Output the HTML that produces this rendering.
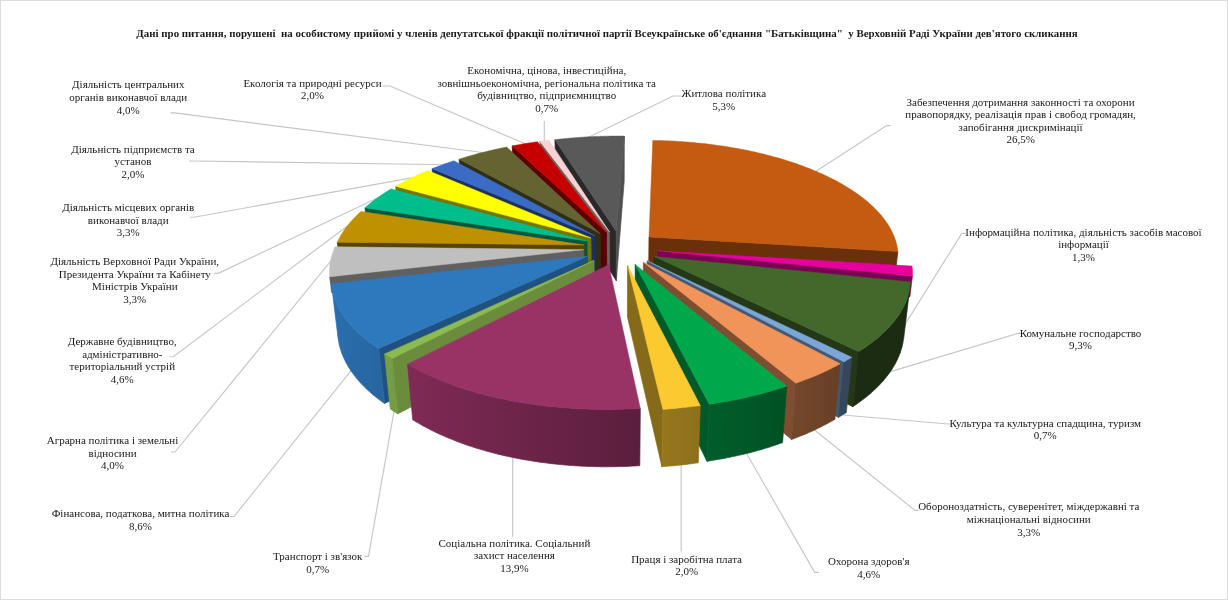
<!DOCTYPE html><html><head><meta charset="utf-8"><title>chart</title><style>html,body{margin:0;padding:0;background:#fff;overflow:hidden}svg{display:block}text{white-space:pre}</style></head><body><svg width="1228" height="600" viewBox="0 0 1228 600" xml:space="preserve" font-family="'Liberation Serif', serif" font-size="11" fill="#1a1a1a">
<rect x="0.5" y="0.5" width="1227" height="599" fill="#fff" stroke="#DDDDDD" stroke-width="1"/>
<g fill="none" stroke="#C6C6C8" stroke-width="1.15"><polyline points="170.6,112.9 174.6,112.9 488.3,153.3"/>
<polyline points="189.0,161.0 193.0,161.0 448.8,164.7"/>
<polyline points="190.0,217.2 194.0,217.2 417.0,176.9"/>
<polyline points="214.3,273.3 218.3,273.3 382.7,195.4"/>
<polyline points="169.3,356.7 173.3,356.7 351.8,222.7"/>
<polyline points="171.0,452.0 175.0,452.0 334.2,256.9"/>
<polyline points="230.0,516.5 234.0,516.5 354.7,366.2"/>
<polyline points="364.5,556.3 368.5,556.3 395.0,405.6"/>
<polyline points="512.7,536.8 512.7,451.5"/>
<polyline points="681.2,551.4 681.2,459.1"/>
<polyline points="818.7,572.3 814.7,572.3 743.6,448.3"/>
<polyline points="919.0,510.4 915.0,510.4 809.8,426.3"/>
<polyline points="952.0,424.0 948.0,424.0 836.5,414.5"/>
<polyline points="1022.4,333.3 1018.4,333.3 884.6,373.4"/>
<polyline points="965.8,233.4 961.8,233.4 903.0,327.6"/>
<polyline points="890.6,125.6 886.6,125.6 811.0,174.6"/>
<polyline points="681.0,96.0 677.0,96.0 673.0,96.0 584.0,139.4"/>
<polyline points="544.3,121.0 544.3,146.8"/>
<polyline points="382.0,86.0 386.0,86.0 390.0,86.0 530.3,146.0"/></g>
<g stroke-linejoin="round"><polygon points="616.2,231.2 554.9,139.7 556.1,184.6 616.3,280.8" fill="#292929" stroke="#292929" stroke-width="0.7"/>
<polygon points="616.2,231.2 624.3,136.1 624.2,180.8 616.3,280.8" fill="#505050" stroke="#505050" stroke-width="0.7"/>
<polygon points="616.2,231.2 554.9,139.7 556.7,139.5 558.4,139.3 560.2,139.1 561.9,138.9 563.7,138.7 565.4,138.6 567.2,138.4 569.0,138.2 570.7,138.1 572.5,137.9 574.3,137.8 576.0,137.7 577.8,137.5 579.6,137.4 581.4,137.3 583.2,137.2 584.9,137.0 586.7,136.9 588.5,136.8 590.3,136.8 592.1,136.7 593.9,136.6 595.6,136.5 597.4,136.4 599.2,136.4 601.0,136.3 602.8,136.3 604.6,136.2 606.4,136.2 608.2,136.2 610.0,136.1 611.8,136.1 613.6,136.1 615.3,136.1 617.1,136.1 618.9,136.1 620.7,136.1 622.5,136.1 624.3,136.1" fill="#595959" stroke="#595959" stroke-width="0.5"/>
<polygon points="609.4,231.8 540.0,141.4 541.5,186.3 609.7,281.5" fill="#726161" stroke="#726161" stroke-width="0.7"/>
<polygon points="609.4,231.8 540.0,141.4 541.5,141.2 543.0,141.0 544.5,140.8 546.0,140.6 547.5,140.4 549.0,140.2" fill="#F8D2D2" stroke="#F8D2D2" stroke-width="0.5"/>
<polygon points="606.5,232.3 512.2,145.9 514.2,191.1 606.8,282.0" fill="#5B0000" stroke="#5B0000" stroke-width="0.7"/>
<polygon points="606.5,232.3 512.2,145.9 513.9,145.6 515.6,145.3 517.2,145.0 518.9,144.7 520.6,144.4 522.2,144.1 523.9,143.8 525.6,143.5 527.3,143.3 529.0,143.0 530.7,142.7 532.4,142.5 534.1,142.2 535.8,142.0 537.5,141.8" fill="#C60000" stroke="#C60000" stroke-width="0.5"/>
<polygon points="600.4,233.8 459.1,159.2 462.1,205.1 600.9,283.6" fill="#2E2E17" stroke="#2E2E17" stroke-width="0.7"/>
<polygon points="600.4,233.8 459.1,159.2 460.7,158.7 462.2,158.2 463.8,157.7 465.4,157.2 467.0,156.7 468.6,156.3 470.2,155.8 471.8,155.4 473.4,154.9 475.0,154.4 476.6,154.0 478.2,153.6 479.9,153.1 481.5,152.7 483.2,152.3 484.8,151.9 486.5,151.5 488.1,151.1 489.8,150.7 491.5,150.3 493.1,149.9 494.8,149.5 496.5,149.2 498.2,148.8 499.9,148.4 501.6,148.1 503.3,147.7 505.0,147.4 506.7,147.1" fill="#646432" stroke="#646432" stroke-width="0.5"/>
<polygon points="595.0,235.8 432.1,168.7 435.6,215.2 595.5,285.7" fill="#1B315B" stroke="#1B315B" stroke-width="0.7"/>
<polygon points="595.0,235.8 432.1,168.7 433.5,168.2 434.9,167.6 436.3,167.1 437.7,166.5 439.2,166.0 440.6,165.4 442.1,164.9 443.5,164.3 445.0,163.8 446.5,163.3 447.9,162.8 449.4,162.3 450.9,161.8 452.4,161.3 453.9,160.8" fill="#3A6BC5" stroke="#3A6BC5" stroke-width="0.5"/>
<polygon points="649.0,236.9 897.9,251.5 892.0,302.1 648.5,286.8" fill="#693009" stroke="#693009" stroke-width="0.7"/>
<polygon points="649.0,236.9 652.8,140.4 654.6,140.5 656.4,140.5 658.3,140.5 660.1,140.6 662.0,140.6 663.8,140.7 665.7,140.8 667.5,140.8 669.3,140.9 671.2,141.0 673.0,141.1 674.9,141.2 676.7,141.3 678.5,141.4 680.4,141.5 682.2,141.7 684.0,141.8 685.9,141.9 687.7,142.1 689.5,142.2 691.3,142.4 693.2,142.5 695.0,142.7 696.8,142.9 698.6,143.1 700.4,143.2 702.2,143.4 704.0,143.6 705.9,143.8 707.7,144.1 709.5,144.3 711.3,144.5 713.1,144.7 714.9,145.0 716.6,145.2 718.4,145.5 720.2,145.7 722.0,146.0 723.8,146.2 725.6,146.5 727.3,146.8 729.1,147.1 730.9,147.4 732.6,147.7 734.4,148.0 736.1,148.3 737.9,148.6 739.6,148.9 741.4,149.3 743.1,149.6 744.8,149.9 746.6,150.3 748.3,150.6 750.0,151.0 751.7,151.4 753.4,151.7 755.1,152.1 756.8,152.5 758.5,152.9 760.2,153.3 761.9,153.7 763.6,154.1 765.3,154.5 766.9,155.0 768.6,155.4 770.2,155.8 771.9,156.3 773.5,156.7 775.2,157.2 776.8,157.6 778.4,158.1 780.1,158.5 781.7,159.0 783.3,159.5 784.9,160.0 786.5,160.5 788.1,161.0 789.6,161.5 791.2,162.0 792.8,162.5 794.3,163.1 795.9,163.6 797.4,164.1 799.0,164.7 800.5,165.2 802.0,165.8 803.5,166.3 805.0,166.9 806.5,167.5 808.0,168.0 809.5,168.6 811.0,169.2 812.4,169.8 813.9,170.4 815.3,171.0 816.8,171.6 818.2,172.2 819.6,172.9 821.0,173.5 822.5,174.1 823.8,174.8 825.2,175.4 826.6,176.0 828.0,176.7 829.3,177.4 830.7,178.0 832.0,178.7 833.3,179.4 834.7,180.1 836.0,180.8 837.3,181.4 838.5,182.1 839.8,182.9 841.1,183.6 842.3,184.3 843.6,185.0 844.8,185.7 846.0,186.5 847.2,187.2 848.4,187.9 849.6,188.7 850.8,189.4 852.0,190.2 853.1,190.9 854.3,191.7 855.4,192.5 856.5,193.3 857.6,194.0 858.7,194.8 859.8,195.6 860.9,196.4 861.9,197.2 863.0,198.0 864.0,198.8 865.0,199.7 866.0,200.5 867.0,201.3 868.0,202.1 868.9,203.0 869.9,203.8 870.8,204.6 871.7,205.5 872.7,206.3 873.6,207.2 874.4,208.1 875.3,208.9 876.2,209.8 877.0,210.7 877.8,211.5 878.6,212.4 879.4,213.3 880.2,214.2 881.0,215.1 881.7,216.0 882.4,216.9 883.2,217.8 883.9,218.7 884.6,219.6 885.2,220.5 885.9,221.5 886.5,222.4 887.2,223.3 887.8,224.2 888.4,225.2 888.9,226.1 889.5,227.1 890.0,228.0 890.6,229.0 891.1,229.9 891.6,230.9 892.0,231.8 892.5,232.8 892.9,233.7 893.4,234.7 893.8,235.7 894.2,236.6 894.5,237.6 894.9,238.6 895.2,239.6 895.6,240.6 895.9,241.5 896.1,242.5 896.4,243.5 896.7,244.5 896.9,245.5 897.1,246.5 897.3,247.5 897.5,248.5 897.6,249.5 897.8,250.5 897.9,251.5" fill="#C55A11" stroke="#C55A11" stroke-width="0.5"/>
<polygon points="590.9,238.0 395.7,186.3 400.0,233.6 591.6,287.9" fill="#757500" stroke="#757500" stroke-width="0.7"/>
<polygon points="590.9,238.0 395.7,186.3 396.9,185.5 398.1,184.8 399.4,184.1 400.7,183.4 401.9,182.7 403.2,182.0 404.5,181.3 405.8,180.6 407.1,180.0 408.5,179.3 409.8,178.6 411.1,178.0 412.5,177.3 413.8,176.7 415.2,176.0 416.6,175.4 418.0,174.8 419.4,174.1 420.8,173.5 422.2,172.9 423.6,172.3 425.1,171.7 426.5,171.1 427.9,170.5" fill="#FFFF00" stroke="#FFFF00" stroke-width="0.5"/>
<polygon points="587.0,241.0 365.0,207.7 370.0,256.2 587.7,291.1" fill="#005740" stroke="#005740" stroke-width="0.7"/>
<polygon points="587.0,241.0 365.0,207.7 365.9,206.9 366.9,206.1 367.9,205.2 368.8,204.4 369.8,203.6 370.9,202.8 371.9,202.0 372.9,201.1 374.0,200.3 375.1,199.5 376.1,198.7 377.2,198.0 378.3,197.2 379.5,196.4 380.6,195.6 381.7,194.8 382.9,194.1 384.0,193.3 385.2,192.6 386.4,191.8 387.6,191.1 388.8,190.3 390.0,189.6 391.2,188.9" fill="#00BE8C" stroke="#00BE8C" stroke-width="0.5"/>
<polygon points="584.1,245.0 337.3,242.2 343.2,292.4 584.9,295.3" fill="#594300" stroke="#594300" stroke-width="0.7"/>
<polygon points="584.1,245.0 337.3,242.2 337.7,241.3 338.2,240.3 338.7,239.3 339.2,238.4 339.7,237.4 340.2,236.5 340.7,235.6 341.3,234.6 341.9,233.7 342.5,232.7 343.1,231.8 343.7,230.9 344.3,230.0 345.0,229.0 345.6,228.1 346.3,227.2 347.0,226.3 347.7,225.4 348.5,224.5 349.2,223.6 349.9,222.7 350.7,221.8 351.5,220.9 352.3,220.0 353.1,219.2 353.9,218.3 354.8,217.4 355.6,216.5 356.5,215.7 357.4,214.8 358.3,214.0 359.2,213.1 360.1,212.3 361.0,211.4" fill="#BF9000" stroke="#BF9000" stroke-width="0.5"/>
<polygon points="583.6,249.7 329.7,276.7 331.6,292.5 583.8,265.1" fill="#606060" stroke="#606060" stroke-width="0.7"/>
<polygon points="583.6,249.7 329.7,276.7 329.6,275.6 329.6,274.6 329.5,273.5 329.5,272.5 329.5,271.4 329.5,270.4 329.6,269.3 329.6,268.3 329.7,267.3 329.8,266.2 329.9,265.2 330.0,264.1 330.2,263.1 330.3,262.1 330.5,261.0 330.7,260.0 331.0,259.0 331.2,258.0 331.5,256.9 331.8,255.9 332.1,254.9 332.4,253.9 332.7,252.9 333.1,251.9 333.4,250.9 333.8,249.8 334.2,248.8 334.7,247.8 335.1,246.8" fill="#BFBFBF" stroke="#BFBFBF" stroke-width="0.5"/>
<polygon points="658.0,250.9 912.4,276.0 909.8,296.9 657.7,271.4" fill="#7A0054" stroke="#7A0054" stroke-width="0.7"/>
<polygon points="658.0,250.9 912.0,266.1 912.2,267.1 912.3,268.0 912.3,269.0 912.4,270.0 912.4,271.0 912.5,272.0 912.5,273.0 912.5,274.0 912.4,275.0 912.4,276.0" fill="#E6009E" stroke="#E6009E" stroke-width="0.5"/>
<polygon points="587.6,256.3 378.7,348.6 384.5,403.5 588.3,307.1" fill="#1F5281" stroke="#1F5281" stroke-width="0.7"/>
<linearGradient id="g9" gradientUnits="userSpaceOnUse" x1="378.7" y1="0" x2="331.7" y2="0"><stop offset="-0.000" stop-color="#2766A1"/><stop offset="0.230" stop-color="#2868A3"/><stop offset="0.407" stop-color="#2869A6"/><stop offset="0.561" stop-color="#296BA8"/><stop offset="0.709" stop-color="#296CAA"/><stop offset="0.827" stop-color="#296DAB"/><stop offset="0.906" stop-color="#2A6EAD"/><stop offset="0.963" stop-color="#2A6FAE"/><stop offset="1.000" stop-color="#2A6FAF"/></linearGradient>
<polygon points="378.7,348.6 377.3,347.6 375.9,346.7 374.5,345.7 373.1,344.8 371.8,343.8 370.5,342.8 369.2,341.9 367.9,340.9 366.6,339.9 365.4,338.9 364.2,337.9 363.0,336.9 361.8,335.9 360.7,334.9 359.6,333.9 358.5,332.9 357.4,331.9 356.3,330.8 355.3,329.8 354.3,328.8 353.3,327.7 352.3,326.7 351.4,325.7 350.4,324.6 349.5,323.6 348.7,322.5 347.8,321.5 347.0,320.4 346.2,319.4 345.4,318.3 344.6,317.2 343.8,316.2 343.1,315.1 342.4,314.0 341.7,313.0 341.1,311.9 340.4,310.8 339.8,309.8 339.2,308.7 338.7,307.6 338.1,306.5 337.6,305.5 337.1,304.4 336.6,303.3 336.1,302.2 335.7,301.1 335.3,300.0 334.9,299.0 334.5,297.9 334.1,296.8 333.8,295.7 333.5,294.6 333.2,293.5 332.9,292.5 332.7,291.4 332.4,290.3 332.2,289.2 332.0,288.1 331.9,287.0 331.7,286.0 338.1,338.2 338.2,339.3 338.4,340.4 338.6,341.6 338.8,342.7 339.1,343.8 339.3,345.0 339.6,346.1 339.9,347.2 340.2,348.3 340.5,349.5 340.9,350.6 341.3,351.7 341.7,352.9 342.1,354.0 342.5,355.1 343.0,356.3 343.5,357.4 344.0,358.5 344.5,359.6 345.1,360.8 345.6,361.9 346.2,363.0 346.8,364.1 347.5,365.3 348.1,366.4 348.8,367.5 349.5,368.6 350.2,369.7 350.9,370.8 351.7,371.9 352.5,373.0 353.3,374.1 354.1,375.2 355.0,376.3 355.8,377.4 356.7,378.5 357.6,379.6 358.6,380.7 359.5,381.8 360.5,382.9 361.5,383.9 362.5,385.0 363.5,386.1 364.6,387.1 365.7,388.2 366.8,389.3 367.9,390.3 369.1,391.3 370.2,392.4 371.4,393.4 372.6,394.5 373.9,395.5 375.1,396.5 376.4,397.5 377.7,398.5 379.0,399.5 380.3,400.5 381.7,401.5 383.1,402.5 384.5,403.5" fill="url(#g9)" stroke="url(#g9)" stroke-width="0.7"/>
<polygon points="587.6,256.3 378.7,348.6 377.3,347.6 375.9,346.7 374.5,345.7 373.1,344.8 371.8,343.8 370.5,342.8 369.2,341.9 367.9,340.9 366.6,339.9 365.4,338.9 364.2,337.9 363.0,336.9 361.8,335.9 360.7,334.9 359.6,333.9 358.5,332.9 357.4,331.9 356.3,330.8 355.3,329.8 354.3,328.8 353.3,327.7 352.3,326.7 351.4,325.7 350.4,324.6 349.5,323.6 348.7,322.5 347.8,321.5 347.0,320.4 346.2,319.4 345.4,318.3 344.6,317.2 343.8,316.2 343.1,315.1 342.4,314.0 341.7,313.0 341.1,311.9 340.4,310.8 339.8,309.8 339.2,308.7 338.7,307.6 338.1,306.5 337.6,305.5 337.1,304.4 336.6,303.3 336.1,302.2 335.7,301.1 335.3,300.0 334.9,299.0 334.5,297.9 334.1,296.8 333.8,295.7 333.5,294.6 333.2,293.5 332.9,292.5 332.7,291.4 332.4,290.3 332.2,289.2 332.0,288.1 331.9,287.0 331.7,286.0 331.6,284.9 331.5,283.8" fill="#2E79BE" stroke="#2E79BE" stroke-width="0.5"/>
<polygon points="654.1,256.4 858.4,351.6 852.8,406.7 653.4,307.2" fill="#243717" stroke="#243717" stroke-width="0.7"/>
<linearGradient id="g2" gradientUnits="userSpaceOnUse" x1="910.0" y1="0" x2="858.4" y2="0"><stop offset="-0.000" stop-color="#1C2C12"/><stop offset="0.035" stop-color="#1C2C12"/><stop offset="0.095" stop-color="#1C2C12"/><stop offset="0.183" stop-color="#1C2C12"/><stop offset="0.298" stop-color="#1C2C12"/><stop offset="0.421" stop-color="#1C2C12"/><stop offset="0.587" stop-color="#1C2C12"/><stop offset="0.780" stop-color="#1C2C12"/><stop offset="1.000" stop-color="#1C2C12"/></linearGradient>
<polygon points="910.0,286.2 909.9,287.3 909.7,288.3 909.5,289.4 909.3,290.5 909.1,291.6 908.8,292.7 908.6,293.8 908.3,294.9 907.9,295.9 907.6,297.0 907.2,298.1 906.9,299.2 906.5,300.3 906.0,301.4 905.6,302.4 905.1,303.5 904.6,304.6 904.1,305.7 903.6,306.8 903.0,307.8 902.5,308.9 901.9,310.0 901.2,311.1 900.6,312.1 899.9,313.2 899.3,314.3 898.5,315.4 897.8,316.4 897.1,317.5 896.3,318.5 895.5,319.6 894.7,320.7 893.8,321.7 893.0,322.8 892.1,323.8 891.2,324.9 890.3,325.9 889.3,326.9 888.3,328.0 887.3,329.0 886.3,330.1 885.3,331.1 884.2,332.1 883.1,333.1 882.0,334.1 880.9,335.2 879.8,336.2 878.6,337.2 877.4,338.2 876.2,339.2 875.0,340.1 873.7,341.1 872.4,342.1 871.1,343.1 869.8,344.1 868.4,345.0 867.1,346.0 865.7,346.9 864.3,347.9 862.9,348.8 861.4,349.8 859.9,350.7 858.4,351.6 852.8,406.7 854.2,405.7 855.7,404.8 857.1,403.8 858.5,402.8 859.9,401.8 861.2,400.8 862.6,399.8 863.9,398.8 865.2,397.8 866.5,396.8 867.7,395.8 869.0,394.7 870.2,393.7 871.4,392.7 872.5,391.6 873.7,390.6 874.8,389.5 875.9,388.5 877.0,387.4 878.1,386.3 879.1,385.3 880.1,384.2 881.1,383.1 882.1,382.0 883.1,381.0 884.0,379.9 884.9,378.8 885.8,377.7 886.7,376.6 887.5,375.5 888.4,374.4 889.2,373.3 890.0,372.2 890.7,371.1 891.5,370.0 892.2,368.9 892.9,367.7 893.6,366.6 894.2,365.5 894.9,364.4 895.5,363.3 896.1,362.1 896.6,361.0 897.2,359.9 897.7,358.8 898.2,357.6 898.7,356.5 899.2,355.4 899.6,354.2 900.1,353.1 900.5,352.0 900.8,350.9 901.2,349.7 901.5,348.6 901.9,347.5 902.2,346.3 902.4,345.2 902.7,344.0 902.9,342.9 903.1,341.8 903.3,340.7 903.5,339.5 903.7,338.4" fill="url(#g2)" stroke="url(#g2)" stroke-width="0.7"/>
<polygon points="654.1,256.4 910.4,281.9 910.4,282.9 910.3,284.0 910.2,285.1 910.0,286.2 909.9,287.3 909.7,288.3 909.5,289.4 909.3,290.5 909.1,291.6 908.8,292.7 908.6,293.8 908.3,294.9 907.9,295.9 907.6,297.0 907.2,298.1 906.9,299.2 906.5,300.3 906.0,301.4 905.6,302.4 905.1,303.5 904.6,304.6 904.1,305.7 903.6,306.8 903.0,307.8 902.5,308.9 901.9,310.0 901.2,311.1 900.6,312.1 899.9,313.2 899.3,314.3 898.5,315.4 897.8,316.4 897.1,317.5 896.3,318.5 895.5,319.6 894.7,320.7 893.8,321.7 893.0,322.8 892.1,323.8 891.2,324.9 890.3,325.9 889.3,326.9 888.3,328.0 887.3,329.0 886.3,330.1 885.3,331.1 884.2,332.1 883.1,333.1 882.0,334.1 880.9,335.2 879.8,336.2 878.6,337.2 877.4,338.2 876.2,339.2 875.0,340.1 873.7,341.1 872.4,342.1 871.1,343.1 869.8,344.1 868.4,345.0 867.1,346.0 865.7,346.9 864.3,347.9 862.9,348.8 861.4,349.8 859.9,350.7 858.4,351.6" fill="#43682B" stroke="#43682B" stroke-width="0.5"/>
<polygon points="594.0,260.5 392.2,358.6 397.7,413.9 594.6,311.5" fill="#6A8C3C" stroke="#6A8C3C" stroke-width="0.7"/>
<linearGradient id="g8" gradientUnits="userSpaceOnUse" x1="392.2" y1="0" x2="384.6" y2="0"><stop offset="-0.000" stop-color="#769C43"/><stop offset="0.172" stop-color="#769D43"/><stop offset="0.341" stop-color="#769D43"/><stop offset="0.509" stop-color="#779D43"/><stop offset="0.675" stop-color="#779E43"/><stop offset="0.838" stop-color="#779E44"/><stop offset="1.000" stop-color="#779E44"/></linearGradient>
<polygon points="392.2,358.6 390.9,357.8 389.6,357.0 388.3,356.3 387.1,355.5 385.8,354.7 384.6,353.9 390.3,409.0 391.5,409.9 392.7,410.7 393.9,411.5 395.2,412.3 396.4,413.1 397.7,413.9" fill="url(#g8)" stroke="url(#g8)" stroke-width="0.7"/>
<polygon points="594.0,260.5 392.2,358.6 390.9,357.8 389.6,357.0 388.3,356.3 387.1,355.5 385.8,354.7 384.6,353.9" fill="#8DBB50" stroke="#8DBB50" stroke-width="0.5"/>
<polygon points="647.1,260.8 843.9,361.9 838.5,417.4 646.5,311.8" fill="#425872" stroke="#425872" stroke-width="0.7"/>
<linearGradient id="g3" gradientUnits="userSpaceOnUse" x1="851.8" y1="0" x2="843.9" y2="0"><stop offset="-0.000" stop-color="#34465B"/><stop offset="0.162" stop-color="#34465B"/><stop offset="0.326" stop-color="#34465B"/><stop offset="0.492" stop-color="#35465C"/><stop offset="0.659" stop-color="#35475C"/><stop offset="0.829" stop-color="#35475C"/><stop offset="1.000" stop-color="#35475D"/></linearGradient>
<polygon points="851.8,357.3 850.5,358.1 849.2,358.9 847.9,359.6 846.6,360.4 845.2,361.2 843.9,361.9 838.5,417.4 839.8,416.6 841.1,415.8 842.4,415.0 843.7,414.2 845.0,413.4 846.3,412.6" fill="url(#g3)" stroke="url(#g3)" stroke-width="0.7"/>
<polygon points="647.1,260.8 851.8,357.3 850.5,358.1 849.2,358.9 847.9,359.6 846.6,360.4 845.2,361.2 843.9,361.9" fill="#7CA6D8" stroke="#7CA6D8" stroke-width="0.5"/>
<polygon points="643.4,262.3 795.8,383.2 791.5,439.5 642.9,313.3" fill="#7F4E30" stroke="#7F4E30" stroke-width="0.7"/>
<linearGradient id="g4" gradientUnits="userSpaceOnUse" x1="840.2" y1="0" x2="795.8" y2="0"><stop offset="-0.000" stop-color="#674027"/><stop offset="0.111" stop-color="#684027"/><stop offset="0.227" stop-color="#6A4128"/><stop offset="0.346" stop-color="#6B4228"/><stop offset="0.470" stop-color="#6D4329"/><stop offset="0.597" stop-color="#6E4429"/><stop offset="0.728" stop-color="#70452A"/><stop offset="0.862" stop-color="#71462B"/><stop offset="1.000" stop-color="#73472B"/></linearGradient>
<polygon points="840.2,363.8 838.5,364.7 836.9,365.6 835.2,366.5 833.5,367.3 831.8,368.2 830.1,369.1 828.4,369.9 826.6,370.8 824.8,371.6 823.0,372.4 821.2,373.3 819.3,374.1 817.5,374.9 815.6,375.7 813.7,376.5 811.8,377.3 809.8,378.0 807.9,378.8 805.9,379.5 803.9,380.3 801.9,381.0 799.9,381.8 797.9,382.5 795.8,383.2 791.5,439.5 793.5,438.8 795.5,438.0 797.4,437.3 799.4,436.5 801.3,435.7 803.3,435.0 805.2,434.2 807.1,433.4 808.9,432.5 810.8,431.7 812.6,430.9 814.5,430.1 816.3,429.2 818.0,428.3 819.8,427.5 821.6,426.6 823.3,425.7 825.0,424.8 826.7,423.9 828.4,423.0 830.0,422.1 831.6,421.2 833.3,420.3 834.9,419.4" fill="url(#g4)" stroke="url(#g4)" stroke-width="0.7"/>
<polygon points="643.4,262.3 840.2,363.8 838.5,364.7 836.9,365.6 835.2,366.5 833.5,367.3 831.8,368.2 830.1,369.1 828.4,369.9 826.6,370.8 824.8,371.6 823.0,372.4 821.2,373.3 819.3,374.1 817.5,374.9 815.6,375.7 813.7,376.5 811.8,377.3 809.8,378.0 807.9,378.8 805.9,379.5 803.9,380.3 801.9,381.0 799.9,381.8 797.9,382.5 795.8,383.2" fill="#F0945A" stroke="#F0945A" stroke-width="0.5"/>
<polygon points="635.2,264.4 709.2,404.1 707.0,461.3 634.9,315.6" fill="#005928" stroke="#005928" stroke-width="0.7"/>
<linearGradient id="g5" gradientUnits="userSpaceOnUse" x1="786.7" y1="0" x2="709.2" y2="0"><stop offset="-0.000" stop-color="#005124"/><stop offset="0.107" stop-color="#005225"/><stop offset="0.218" stop-color="#005426"/><stop offset="0.360" stop-color="#005527"/><stop offset="0.477" stop-color="#005727"/><stop offset="0.596" stop-color="#005928"/><stop offset="0.749" stop-color="#005B29"/><stop offset="0.873" stop-color="#005C2A"/><stop offset="1.000" stop-color="#005E2B"/></linearGradient>
<polygon points="786.7,386.1 784.7,386.8 782.6,387.5 780.5,388.2 778.4,388.9 776.3,389.5 774.2,390.2 772.0,390.8 769.9,391.4 767.7,392.1 765.5,392.7 763.3,393.3 761.1,393.9 758.9,394.4 756.6,395.0 754.4,395.6 752.1,396.1 749.8,396.6 747.5,397.2 745.2,397.7 742.9,398.2 740.5,398.7 738.2,399.2 735.8,399.6 733.5,400.1 731.1,400.6 728.7,401.0 726.3,401.4 723.9,401.8 721.5,402.2 719.0,402.6 716.6,403.0 714.2,403.4 711.7,403.8 709.2,404.1 707.0,461.3 709.4,460.9 711.8,460.5 714.2,460.1 716.5,459.7 718.9,459.3 721.3,458.9 723.6,458.5 726.0,458.0 728.3,457.6 730.6,457.1 732.9,456.6 735.2,456.1 737.5,455.6 739.8,455.1 742.1,454.6 744.3,454.1 746.5,453.5 748.8,453.0 751.0,452.4 753.2,451.8 755.4,451.2 757.6,450.6 759.7,450.0 761.9,449.4 764.0,448.7 766.1,448.1 768.3,447.5 770.4,446.8 772.4,446.1 774.5,445.4 776.6,444.7 778.6,444.0 780.6,443.3 782.6,442.6" fill="url(#g5)" stroke="url(#g5)" stroke-width="0.7"/>
<polygon points="635.2,264.4 786.7,386.1 784.7,386.8 782.6,387.5 780.5,388.2 778.4,388.9 776.3,389.5 774.2,390.2 772.0,390.8 769.9,391.4 767.7,392.1 765.5,392.7 763.3,393.3 761.1,393.9 758.9,394.4 756.6,395.0 754.4,395.6 752.1,396.1 749.8,396.6 747.5,397.2 745.2,397.7 742.9,398.2 740.5,398.7 738.2,399.2 735.8,399.6 733.5,400.1 731.1,400.6 728.7,401.0 726.3,401.4 723.9,401.8 721.5,402.2 719.0,402.6 716.6,403.0 714.2,403.4 711.7,403.8 709.2,404.1" fill="#00A84C" stroke="#00A84C" stroke-width="0.5"/>
<linearGradient id="g7" gradientUnits="userSpaceOnUse" x1="640.3" y1="0" x2="407.5" y2="0"><stop offset="-0.000" stop-color="#5B1E3D"/><stop offset="0.137" stop-color="#602040"/><stop offset="0.285" stop-color="#652244"/><stop offset="0.430" stop-color="#6A2347"/><stop offset="0.559" stop-color="#6F254A"/><stop offset="0.681" stop-color="#73264D"/><stop offset="0.803" stop-color="#782850"/><stop offset="0.912" stop-color="#7C2953"/><stop offset="1.000" stop-color="#802B55"/></linearGradient>
<polygon points="640.3,408.4 637.7,408.5 635.0,408.7 632.4,408.8 629.7,408.9 627.1,409.0 624.4,409.1 621.8,409.2 619.1,409.3 616.4,409.3 613.8,409.4 611.1,409.4 608.5,409.4 605.8,409.4 603.1,409.4 600.5,409.4 597.8,409.4 595.1,409.3 592.5,409.3 589.8,409.2 587.2,409.1 584.5,409.0 581.9,408.9 579.2,408.8 576.6,408.6 573.9,408.5 571.3,408.3 568.7,408.1 566.1,407.9 563.4,407.7 560.8,407.5 558.2,407.3 555.6,407.0 553.0,406.8 550.4,406.5 547.8,406.2 545.3,405.9 542.7,405.6 540.1,405.3 537.6,405.0 535.0,404.6 532.5,404.3 530.0,403.9 527.5,403.5 525.0,403.1 522.5,402.7 520.0,402.3 517.5,401.9 515.0,401.4 512.6,401.0 510.1,400.5 507.7,400.0 505.3,399.5 502.9,399.0 500.5,398.5 498.1,398.0 495.7,397.5 493.4,396.9 491.0,396.4 488.7,395.8 486.4,395.2 484.1,394.6 481.8,394.0 479.5,393.4 477.3,392.8 475.0,392.1 472.8,391.5 470.6,390.8 468.4,390.2 466.2,389.5 464.0,388.8 461.9,388.1 459.7,387.4 457.6,386.7 455.5,386.0 453.4,385.3 451.4,384.5 449.3,383.8 447.3,383.0 445.3,382.2 443.3,381.4 441.3,380.7 439.4,379.9 437.4,379.1 435.5,378.2 433.6,377.4 431.7,376.6 429.9,375.8 428.0,374.9 426.2,374.1 424.4,373.2 422.6,372.3 420.9,371.4 419.1,370.6 417.4,369.7 415.7,368.8 414.0,367.9 412.3,366.9 410.7,366.0 409.1,365.1 407.5,364.2 412.7,419.7 414.2,420.7 415.8,421.7 417.4,422.6 419.1,423.6 420.7,424.5 422.4,425.5 424.1,426.4 425.8,427.3 427.5,428.2 429.2,429.1 431.0,430.0 432.8,430.9 434.6,431.8 436.4,432.7 438.2,433.5 440.1,434.4 442.0,435.2 443.9,436.1 445.8,436.9 447.7,437.7 449.7,438.5 451.6,439.3 453.6,440.1 455.6,440.9 457.6,441.7 459.6,442.4 461.7,443.2 463.8,443.9 465.8,444.7 467.9,445.4 470.1,446.1 472.2,446.8 474.3,447.5 476.5,448.2 478.7,448.8 480.9,449.5 483.1,450.1 485.3,450.8 487.5,451.4 489.8,452.0 492.0,452.6 494.3,453.2 496.6,453.8 498.9,454.4 501.2,454.9 503.5,455.5 505.9,456.0 508.2,456.5 510.6,457.0 512.9,457.5 515.3,458.0 517.7,458.5 520.1,458.9 522.5,459.4 525.0,459.8 527.4,460.2 529.8,460.6 532.3,461.0 534.8,461.4 537.2,461.8 539.7,462.2 542.2,462.5 544.7,462.8 547.2,463.1 549.7,463.5 552.2,463.7 554.7,464.0 557.3,464.3 559.8,464.5 562.4,464.8 564.9,465.0 567.5,465.2 570.0,465.4 572.6,465.6 575.1,465.8 577.7,465.9 580.3,466.1 582.9,466.2 585.5,466.3 588.0,466.4 590.6,466.5 593.2,466.6 595.8,466.7 598.4,466.7 601.0,466.8 603.6,466.8 606.2,466.8 608.8,466.8 611.4,466.8 614.0,466.7 616.6,466.7 619.1,466.6 621.7,466.6 624.3,466.5 626.9,466.4 629.5,466.3 632.1,466.1 634.7,466.0 637.2,465.8 639.8,465.7" fill="url(#g7)" stroke="url(#g7)" stroke-width="0.7"/>
<polygon points="608.7,264.8 640.3,408.4 637.7,408.5 635.0,408.7 632.4,408.8 629.7,408.9 627.1,409.0 624.4,409.1 621.8,409.2 619.1,409.3 616.4,409.3 613.8,409.4 611.1,409.4 608.5,409.4 605.8,409.4 603.1,409.4 600.5,409.4 597.8,409.4 595.1,409.3 592.5,409.3 589.8,409.2 587.2,409.1 584.5,409.0 581.9,408.9 579.2,408.8 576.6,408.6 573.9,408.5 571.3,408.3 568.7,408.1 566.1,407.9 563.4,407.7 560.8,407.5 558.2,407.3 555.6,407.0 553.0,406.8 550.4,406.5 547.8,406.2 545.3,405.9 542.7,405.6 540.1,405.3 537.6,405.0 535.0,404.6 532.5,404.3 530.0,403.9 527.5,403.5 525.0,403.1 522.5,402.7 520.0,402.3 517.5,401.9 515.0,401.4 512.6,401.0 510.1,400.5 507.7,400.0 505.3,399.5 502.9,399.0 500.5,398.5 498.1,398.0 495.7,397.5 493.4,396.9 491.0,396.4 488.7,395.8 486.4,395.2 484.1,394.6 481.8,394.0 479.5,393.4 477.3,392.8 475.0,392.1 472.8,391.5 470.6,390.8 468.4,390.2 466.2,389.5 464.0,388.8 461.9,388.1 459.7,387.4 457.6,386.7 455.5,386.0 453.4,385.3 451.4,384.5 449.3,383.8 447.3,383.0 445.3,382.2 443.3,381.4 441.3,380.7 439.4,379.9 437.4,379.1 435.5,378.2 433.6,377.4 431.7,376.6 429.9,375.8 428.0,374.9 426.2,374.1 424.4,373.2 422.6,372.3 420.9,371.4 419.1,370.6 417.4,369.7 415.7,368.8 414.0,367.9 412.3,366.9 410.7,366.0 409.1,365.1 407.5,364.2" fill="#993366" stroke="#993366" stroke-width="0.5"/>
<polygon points="627.6,265.5 662.9,409.3 661.9,466.7 627.4,316.7" fill="#856B19" stroke="#856B19" stroke-width="0.7"/>
<linearGradient id="g6" gradientUnits="userSpaceOnUse" x1="700.3" y1="0" x2="662.9" y2="0"><stop offset="-0.000" stop-color="#8C701B"/><stop offset="0.131" stop-color="#8E711B"/><stop offset="0.263" stop-color="#8F721B"/><stop offset="0.396" stop-color="#90731C"/><stop offset="0.529" stop-color="#91741C"/><stop offset="0.596" stop-color="#92751C"/><stop offset="0.730" stop-color="#93761C"/><stop offset="0.865" stop-color="#94771C"/><stop offset="1.000" stop-color="#96781D"/></linearGradient>
<polygon points="700.3,405.6 697.8,405.9 695.4,406.2 692.9,406.5 690.5,406.8 688.0,407.1 685.5,407.4 683.0,407.6 680.5,407.9 678.0,408.1 675.5,408.4 673.0,408.6 670.5,408.8 668.0,409.0 665.5,409.2 662.9,409.3 661.9,466.7 664.3,466.5 666.8,466.3 669.2,466.1 671.7,465.9 674.1,465.7 676.6,465.4 679.0,465.2 681.4,464.9 683.9,464.7 686.3,464.4 688.7,464.1 691.1,463.8 693.5,463.5 695.9,463.1 698.3,462.8" fill="url(#g6)" stroke="url(#g6)" stroke-width="0.7"/>
<polygon points="627.6,265.5 700.3,405.6 697.8,405.9 695.4,406.2 692.9,406.5 690.5,406.8 688.0,407.1 685.5,407.4 683.0,407.6 680.5,407.9 678.0,408.1 675.5,408.4 673.0,408.6 670.5,408.8 668.0,409.0 665.5,409.2 662.9,409.3" fill="#FBC930" stroke="#FBC930" stroke-width="0.5"/></g>
<text x="607.0" y="37.0" text-anchor="middle" font-weight="bold" font-size="10.9">Дані про питання, порушені  на особистому прийомі у членів депутатської фракції політичної партії Всеукраїнське об'єднання "Батьківщина"  у Верховній Раді України дев'ятого скликання</text>
<text x="128.3" y="88.4" text-anchor="middle">Діяльність центральних</text>
<text x="128.3" y="101.0" text-anchor="middle">органів виконавчої влади</text>
<text x="128.3" y="113.5" text-anchor="middle">4,0%</text>
<text x="133.0" y="152.8" text-anchor="middle">Діяльність підприємств та</text>
<text x="133.0" y="165.4" text-anchor="middle">установ</text>
<text x="133.0" y="177.9" text-anchor="middle">2,0%</text>
<text x="128.2" y="211.0" text-anchor="middle">Діяльність місцевих органів</text>
<text x="128.2" y="223.6" text-anchor="middle">виконавчої влади</text>
<text x="128.2" y="236.1" text-anchor="middle">3,3%</text>
<text x="134.8" y="265.0" text-anchor="middle">Діяльність Верховної Ради України,</text>
<text x="134.8" y="277.6" text-anchor="middle">Президента України та Кабінету</text>
<text x="134.8" y="290.1" text-anchor="middle">Міністрів України</text>
<text x="134.8" y="302.6" text-anchor="middle">3,3%</text>
<text x="122.3" y="345.2" text-anchor="middle">Державне будівництво,</text>
<text x="122.3" y="357.8" text-anchor="middle">адміністративно-</text>
<text x="122.3" y="370.3" text-anchor="middle">територіальний устрій</text>
<text x="122.3" y="382.9" text-anchor="middle">4,6%</text>
<text x="112.5" y="444.0" text-anchor="middle">Аграрна політика і земельні</text>
<text x="112.5" y="456.6" text-anchor="middle">відносини</text>
<text x="112.5" y="469.1" text-anchor="middle">4,0%</text>
<text x="140.5" y="517.0" text-anchor="middle">Фінансова, податкова, митна політика</text>
<text x="140.5" y="529.5" text-anchor="middle">8,6%</text>
<text x="317.7" y="560.2" text-anchor="middle">Транспорт і зв'язок</text>
<text x="317.7" y="572.8" text-anchor="middle">0,7%</text>
<text x="514.4" y="546.6" text-anchor="middle">Соціальна політика. Соціальний</text>
<text x="514.4" y="559.1" text-anchor="middle">захист населення</text>
<text x="514.4" y="571.7" text-anchor="middle">13,9%</text>
<text x="686.6" y="562.7" text-anchor="middle">Праця і заробітна плата</text>
<text x="686.6" y="575.2" text-anchor="middle">2,0%</text>
<text x="868.8" y="565.3" text-anchor="middle">Охорона здоров'я</text>
<text x="868.8" y="577.8" text-anchor="middle">4,6%</text>
<text x="1028.8" y="510.4" text-anchor="middle">Обороноздатність, суверенітет, міждержавні та</text>
<text x="1028.8" y="522.9" text-anchor="middle">міжнаціональні відносини</text>
<text x="1028.8" y="535.5" text-anchor="middle">3,3%</text>
<text x="1045.3" y="426.7" text-anchor="middle">Культура та культурна спадщина, туризм</text>
<text x="1045.3" y="439.2" text-anchor="middle">0,7%</text>
<text x="1080.5" y="336.5" text-anchor="middle">Комунальне господарство</text>
<text x="1080.5" y="349.1" text-anchor="middle">9,3%</text>
<text x="1083.5" y="235.8" text-anchor="middle">Інформаційна політика, діяльність засобів масової</text>
<text x="1083.5" y="248.4" text-anchor="middle">інформації</text>
<text x="1083.5" y="260.9" text-anchor="middle">1,3%</text>
<text x="1020.6" y="105.5" text-anchor="middle">Забезпечення дотримання законності та охорони</text>
<text x="1020.6" y="118.0" text-anchor="middle">правопорядку, реалізація прав і свобод громадян,</text>
<text x="1020.6" y="130.6" text-anchor="middle">запобігання дискримінації</text>
<text x="1020.6" y="143.2" text-anchor="middle">26,5%</text>
<text x="723.8" y="96.9" text-anchor="middle">Житлова політика</text>
<text x="723.8" y="109.5" text-anchor="middle">5,3%</text>
<text x="546.7" y="74.0" text-anchor="middle">Економічна, цінова, інвестиційна,</text>
<text x="546.7" y="86.5" text-anchor="middle">зовнішньоекономічна, регіональна політика та</text>
<text x="546.7" y="99.1" text-anchor="middle">будівництво, підприємництво</text>
<text x="546.7" y="111.7" text-anchor="middle">0,7%</text>
<text x="312.5" y="86.7" text-anchor="middle">Екологія та природні ресурси</text>
<text x="312.5" y="99.2" text-anchor="middle">2,0%</text>
</svg></body></html>
